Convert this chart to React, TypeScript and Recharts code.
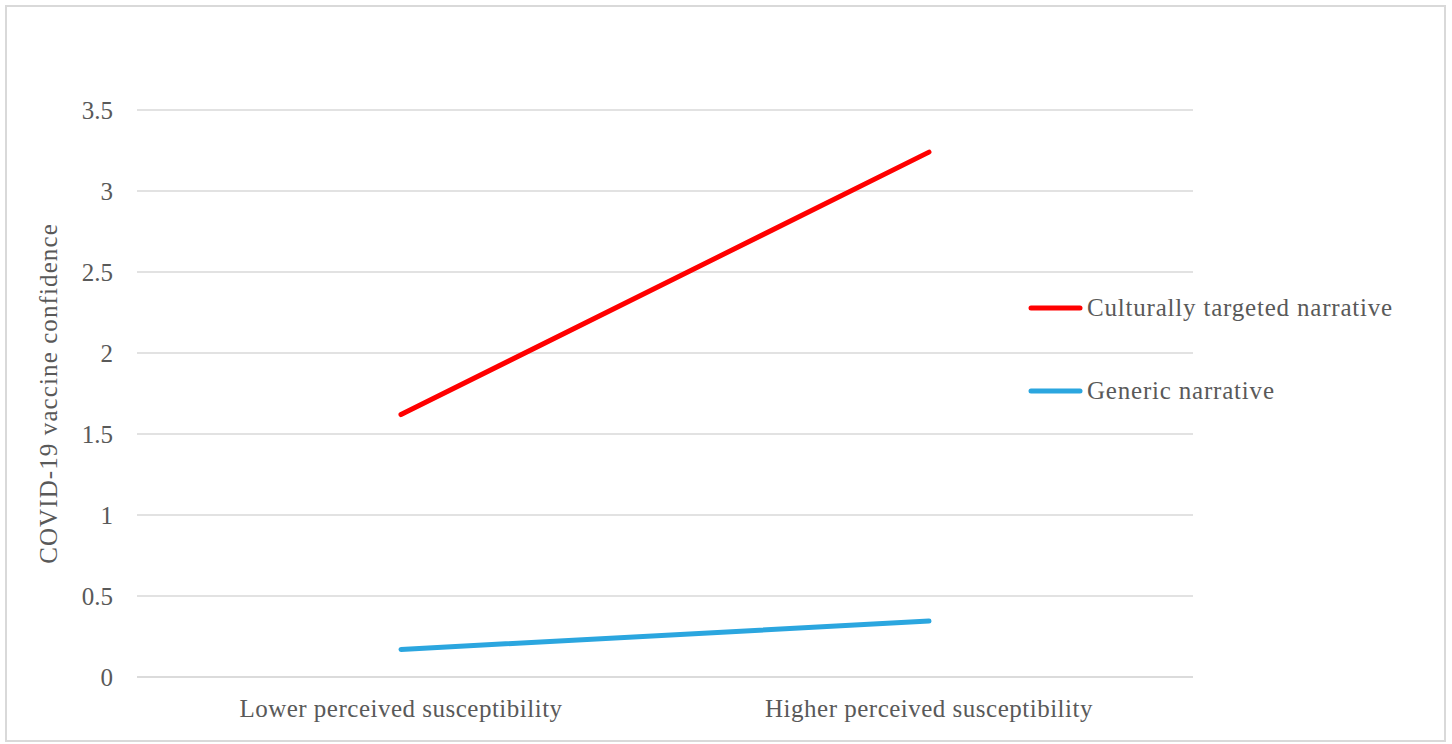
import React from "react";
import {
  LineChart,
  Line,
  XAxis,
  YAxis,
  CartesianGrid,
} from "recharts";

const categories = ["Lower perceived susceptibility", "Higher perceived susceptibility"];
const culturallyTargeted = [1.62, 3.24];
const generic = [0.17, 0.345];
const yTicks = [0, 0.5, 1, 1.5, 2, 2.5, 3, 3.5];

const seriesMeta = [
  { key: "targeted", name: "Culturally targeted narrative", color: "#ff0000" },
  { key: "generic", name: "Generic narrative", color: "#2ba6df" },
];

const data = categories.map((c, i) => ({
  category: c,
  targeted: culturallyTargeted[i],
  generic: generic[i],
}));

const FONT = "'Liberation Serif', 'Times New Roman', serif";
const TEXT = "#595959";
const GRID = "#d9d9d9";
const FS = 25;

const LegendBox = () => (
  <div
    style={{
      position: "absolute",
      left: 1027,
      top: 266,
      fontFamily: FONT,
      color: TEXT,
      fontSize: FS,
      letterSpacing: 0.8,
    }}
  >
    {seriesMeta.map((s) => (
      <div
        key={s.key}
        style={{ display: "flex", alignItems: "center", height: 83 }}
      >
        <svg width={60} height={10} style={{ display: "block" }}>
          <line
            x1={4}
            y1={5}
            x2={53}
            y2={5}
            stroke={s.color}
            strokeWidth={5}
            strokeLinecap="round"
          />
        </svg>
        <span style={{ whiteSpace: "nowrap" }}>{s.name}</span>
      </div>
    ))}
  </div>
);

const YLabel = (props: any) => {
  const vb = props.viewBox || {};
  const cx = vb.x + 18;
  const cy = vb.y + vb.height / 2;
  return (
    <text
      x={cx}
      y={cy}
      transform={`rotate(-90 ${cx} ${cy})`}
      textAnchor="middle"
      dominantBaseline="central"
      fill={TEXT}
      fontSize={FS}
      fontFamily={FONT}
      letterSpacing={1.1}
    >
      COVID-19 vaccine confidence
    </text>
  );
};

export default function App() {
  return (
    <div
      style={{
        position: "absolute",
        left: 0,
        top: 0,
        width: 1452,
        height: 744,
        background: "#fff",
        overflow: "hidden",
      }}
    >
      <LineChart
        width={1452}
        height={744}
        data={data}
        margin={{ top: 110, right: 259, bottom: 7, left: 30 }}
      >
        <CartesianGrid vertical={false} stroke={GRID} strokeWidth={1.5} />
        <XAxis
          dataKey="category"
          scale="band"
          height={60}
          axisLine={{ stroke: GRID, strokeWidth: 1.5 }}
          tickLine={false}
          tickSize={0}
          tickMargin={22}
          tick={{ fill: TEXT, fontSize: FS, fontFamily: FONT, letterSpacing: 0.5 }}
        />
        <YAxis
          width={107}
          domain={[0, 3.5]}
          ticks={yTicks}
          axisLine={false}
          tickLine={false}
          tickSize={0}
          tickMargin={24}
          tick={{ fill: TEXT, fontSize: FS, fontFamily: FONT }}
          label={<YLabel />}
        />
        {seriesMeta.map((s) => (
          <Line
            key={s.key}
            dataKey={s.key}
            name={s.name}
            stroke={s.color}
            strokeWidth={5}
            strokeLinecap="round"
            dot={false}
            activeDot={false}
            isAnimationActive={false}
          />
        ))}
      </LineChart>
      <LegendBox />
      <div
        style={{
          position: "absolute",
          left: 5,
          top: 5,
          width: 1441,
          height: 737,
          border: `2px solid ${GRID}`,
          boxSizing: "border-box",
          pointerEvents: "none",
        }}
      />
    </div>
  );
}
